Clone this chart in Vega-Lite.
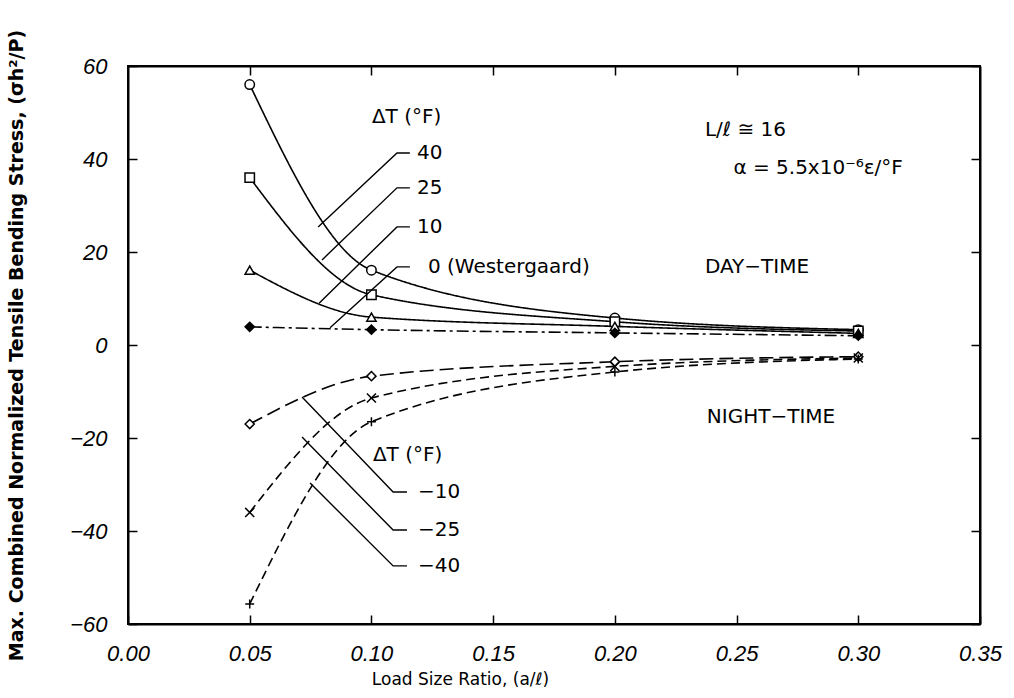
{
  "$schema": "https://vega.github.io/schema/vega-lite/v6.json",
  "width": 852,
  "height": 558,
  "autosize": {"type": "none"},
  "padding": {"left": 128, "top": 66, "right": 34, "bottom": 74},
  "background": "white",
  "config": {
    "view": {"stroke": "black", "strokeWidth": 2},
    "axis": {"grid": false, "domainColor": "black", "domainWidth": 2, "tickColor": "black", "tickWidth": 1.5, "labelColor": "black", "titleColor": "black"}
  },
  "datasets": {
    "curves": [
      {"a": 0.05, "s": 56, "dT": "40"},
      {"a": 0.10, "s": 16.1, "dT": "40"},
      {"a": 0.20, "s": 5.8, "dT": "40"},
      {"a": 0.30, "s": 3.3, "dT": "40"},
      {"a": 0.05, "s": 36, "dT": "25"},
      {"a": 0.10, "s": 10.8, "dT": "25"},
      {"a": 0.20, "s": 5.0, "dT": "25"},
      {"a": 0.30, "s": 3.0, "dT": "25"},
      {"a": 0.05, "s": 16.1, "dT": "10"},
      {"a": 0.10, "s": 6.0, "dT": "10"},
      {"a": 0.20, "s": 4.0, "dT": "10"},
      {"a": 0.30, "s": 2.5, "dT": "10"},
      {"a": 0.05, "s": 3.9, "dT": "0"},
      {"a": 0.10, "s": 3.3, "dT": "0"},
      {"a": 0.20, "s": 2.6, "dT": "0"},
      {"a": 0.30, "s": 2.0, "dT": "0"},
      {"a": 0.05, "s": -17, "dT": "-10"},
      {"a": 0.10, "s": -6.7, "dT": "-10"},
      {"a": 0.20, "s": -3.6, "dT": "-10"},
      {"a": 0.30, "s": -2.5, "dT": "-10"},
      {"a": 0.05, "s": -36, "dT": "-25"},
      {"a": 0.10, "s": -11.4, "dT": "-25"},
      {"a": 0.20, "s": -4.6, "dT": "-25"},
      {"a": 0.30, "s": -2.8, "dT": "-25"},
      {"a": 0.05, "s": -55.7, "dT": "-40"},
      {"a": 0.10, "s": -16.5, "dT": "-40"},
      {"a": 0.20, "s": -5.8, "dT": "-40"},
      {"a": 0.30, "s": -3.0, "dT": "-40"}
    ],
    "leaders": [
      {"g": "L40", "o": 1, "a": 0.1158, "s": 41.3},
      {"g": "L40", "o": 2, "a": 0.1105, "s": 41.3},
      {"g": "L40", "o": 3, "a": 0.0781, "s": 25.4},
      {"g": "L25", "o": 1, "a": 0.1158, "s": 33.8},
      {"g": "L25", "o": 2, "a": 0.1105, "s": 33.8},
      {"g": "L25", "o": 3, "a": 0.0797, "s": 18.3},
      {"g": "L10", "o": 1, "a": 0.1158, "s": 25.4},
      {"g": "L10", "o": 2, "a": 0.1105, "s": 25.4},
      {"g": "L10", "o": 3, "a": 0.0785, "s": 9.0},
      {"g": "L0", "o": 1, "a": 0.1158, "s": 16.8},
      {"g": "L0", "o": 2, "a": 0.1105, "s": 16.8},
      {"g": "L0", "o": 3, "a": 0.083, "s": 3.7},
      {"g": "Ln10", "o": 1, "a": 0.1146, "s": -31.6},
      {"g": "Ln10", "o": 2, "a": 0.1089, "s": -31.6},
      {"g": "Ln10", "o": 3, "a": 0.0715, "s": -11.2},
      {"g": "Ln25", "o": 1, "a": 0.1146, "s": -39.8},
      {"g": "Ln25", "o": 2, "a": 0.1089, "s": -39.8},
      {"g": "Ln25", "o": 3, "a": 0.0715, "s": -19.8},
      {"g": "Ln40", "o": 1, "a": 0.1146, "s": -47.5},
      {"g": "Ln40", "o": 2, "a": 0.1089, "s": -47.5},
      {"g": "Ln40", "o": 3, "a": 0.0748, "s": -29.7}
    ],
    "labels": [
      {"a": 0.1002, "s": 49, "t": "ΔT (°F)"},
      {"a": 0.1187, "s": 41.3, "t": "40"},
      {"a": 0.1187, "s": 33.8, "t": "25"},
      {"a": 0.1187, "s": 25.4, "t": "10"},
      {"a": 0.1232, "s": 16.8, "t": "0 (Westergaard)"},
      {"a": 0.1006, "s": -23.7, "t": "ΔT (°F)"},
      {"a": 0.1191, "s": -31.6, "t": "−10"},
      {"a": 0.1191, "s": -39.8, "t": "−25"},
      {"a": 0.1191, "s": -47.5, "t": "−40"},
      {"a": 0.237, "s": 46.2, "t": "L/ℓ  ≅  16"},
      {"a": 0.2487, "s": 38.1, "t": "α  =  5.5x10⁻⁶ε/°F"},
      {"a": 0.237, "s": 16.8, "t": "DAY−TIME"},
      {"a": 0.2378, "s": -15.5, "t": "NIGHT−TIME"}
    ]
  },
  "layer": [
    {
      "data": {"name": "curves"},
      "mark": {"type": "line", "interpolate": "monotone", "color": "black", "strokeWidth": 1.6},
      "encoding": {
        "x": {"field": "a", "type": "quantitative", "scale": {"domain": [0, 0.35], "nice": false},
          "axis": {"orient": "bottom", "values": [0, 0.05, 0.1, 0.15, 0.2, 0.25, 0.3, 0.35], "format": ".2f", "tickSize": -9, "labelPadding": 28, "labelFont": "Liberation Sans", "labelFontStyle": "italic", "labelFontSize": 22, "labelFlush": false,
            "title": "Load Size Ratio, (a/ℓ)", "titleFont": "DejaVu Sans", "titleFontSize": 17, "titleFontWeight": "normal", "titleX": 332, "titleY": 47}},
        "y": {"field": "s", "type": "quantitative", "scale": {"domain": [-60, 60], "nice": false},
          "axis": {"orient": "left", "values": [-60, -40, -20, 0, 20, 40, 60], "tickSize": -9, "labelPadding": 30, "labelFont": "Liberation Sans", "labelFontStyle": "italic", "labelFontSize": 22, "labelFlush": false,
            "title": "Max. Combined Normalized Tensile Bending Stress, (σh²/P)", "titleFont": "DejaVu Sans", "titleFontSize": 19, "titleFontWeight": "bold", "titleX": -102, "titleY": 279}},
        "detail": {"field": "dT"},
        "strokeDash": {"field": "dT", "type": "nominal", "legend": null,
          "scale": {"domain": ["40", "25", "10", "0", "-10", "-25", "-40"], "range": [[1, 0], [1, 0], [1, 0], [12, 4, 3, 4], [14, 6], [9, 5], [9, 5]]}}
      }
    },
    {
      "data": {"name": "curves"},
      "mark": {"type": "point", "strokeWidth": 1.5, "stroke": "black", "opacity": 1},
      "encoding": {
        "x": {"field": "a", "type": "quantitative", "axis": {"orient": "top", "values": [0.05, 0.1, 0.15, 0.2, 0.25, 0.3], "labels": false, "title": null, "tickSize": -9}},
        "y": {"field": "s", "type": "quantitative", "axis": {"orient": "right", "values": [-60, -40, -20, 0, 20, 40, 60], "labels": false, "title": null, "tickSize": -9}},
        "shape": {"field": "dT", "type": "nominal", "legend": null,
          "scale": {"domain": ["40", "25", "10", "0", "-10", "-25", "-40"], "range": ["circle", "square", "triangle-up", "diamond", "diamond", "M-1,-1L1,1M-1,1L1,-1", "M-1,0L1,0M0,-1L0,1"]}},
        "fill": {"field": "dT", "type": "nominal", "legend": null,
          "scale": {"domain": ["40", "25", "10", "0", "-10", "-25", "-40"], "range": ["white", "white", "white", "black", "white", "white", "white"]}},
        "size": {"field": "dT", "type": "nominal", "legend": null,
          "scale": {"domain": ["40", "25", "10", "0", "-10", "-25", "-40"], "range": [90, 80, 80, 60, 45, 100, 100]}}
      }
    },
    {
      "data": {"name": "leaders"},
      "mark": {"type": "line", "color": "black", "strokeWidth": 1.4},
      "encoding": {
        "x": {"field": "a", "type": "quantitative", "axis": null},
        "y": {"field": "s", "type": "quantitative", "axis": null},
        "detail": {"field": "g"},
        "order": {"field": "o", "type": "quantitative"}
      }
    },
    {
      "data": {"name": "labels"},
      "mark": {"type": "text", "align": "left", "baseline": "middle", "font": "DejaVu Sans", "fontSize": 20, "color": "black"},
      "encoding": {
        "x": {"field": "a", "type": "quantitative", "axis": null},
        "y": {"field": "s", "type": "quantitative", "axis": null},
        "text": {"field": "t"}
      }
    }
  ],
  "resolve": {"axis": {"x": "independent", "y": "independent"}}
}
